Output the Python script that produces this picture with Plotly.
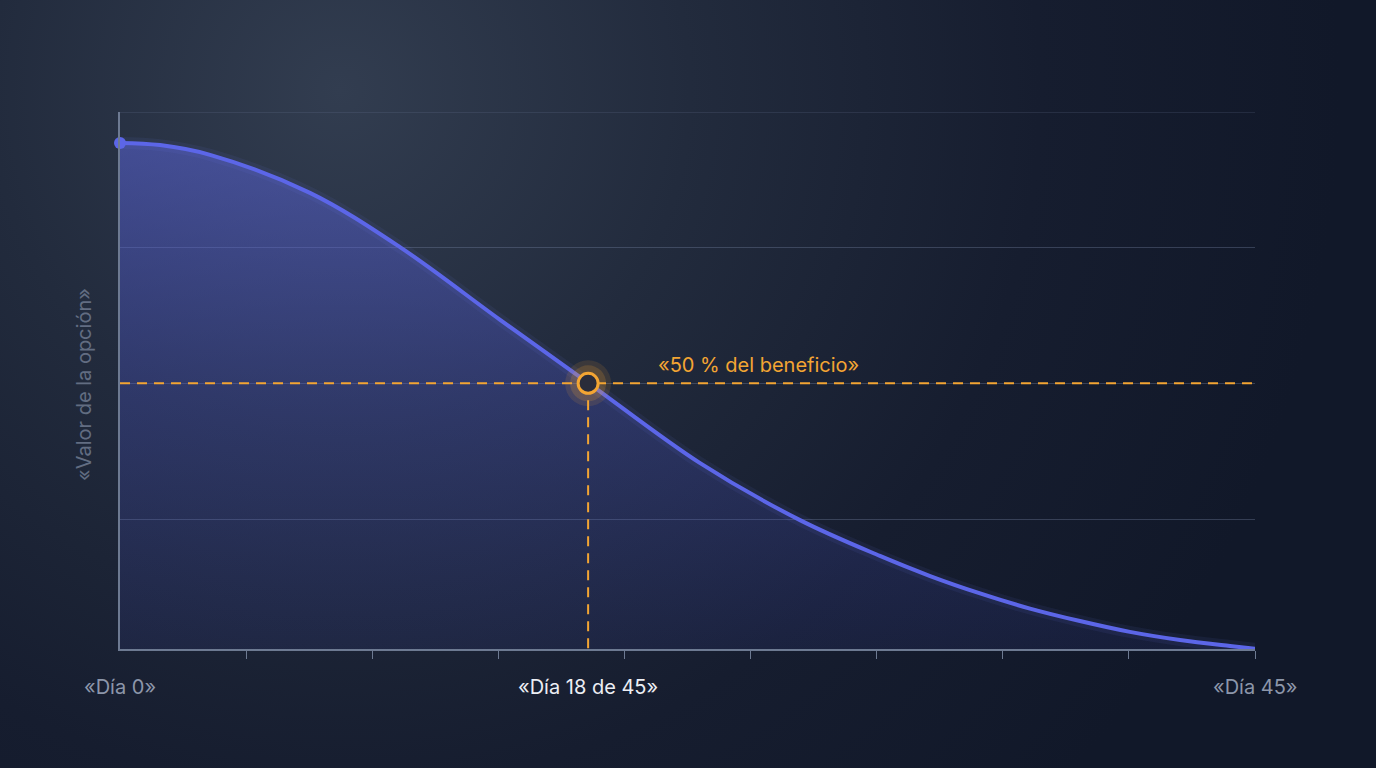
import base64
import plotly.graph_objects as go

# ---- data ----
days = [0, 1.59, 3.57, 7.53, 11.1, 15.07, 18.56, 23.0, 26.96, 30.13, 32.12, 34.10, 36.08, 38.06, 40.04, 42.03, 44.01, 45]
option_value = [0.943, 0.939, 0.921, 0.851, 0.751, 0.617, 0.501, 0.353, 0.248, 0.182, 0.145, 0.113, 0.085, 0.062, 0.042, 0.027, 0.016, 0.011]

marker_day = 18.56
marker_value = 0.5
marker_label = "«50 % del beneficio»"

x_label_days = [0, 18.56, 45]
x_label_texts = ["«Día 0»", "«Día 18 de 45»", "«Día 45»"]
x_label_colors = ["#8c96aa", "#eceef4", "#8c96aa"]

minor_tick_days = [5, 10, 15, 20, 25, 30, 35, 40, 45]
grid_values = [0.25, 0.5, 0.75, 1.0]
y_range = [0.0105, 1.0]
y_title = "«Valor de la opción»"

# ---- layout geometry ----
W, H = 1376, 768
ML, MR, MT, MB = 120, 121, 112, 119
PW, PH = W - ML - MR, H - MT - MB

FONT = "Inter, 'Noto Sans', sans-serif"
BLUE = "#5c66e8"
ORANGE = "#f3a533"
AXIS = "#6d7a92"
GRID = "rgba(120,135,165,0.35)"

# background radial gradient as svg
svg = f'''<svg xmlns="http://www.w3.org/2000/svg" width="{W}" height="{H}" viewBox="0 0 {W} {H}">
<defs><radialGradient id="g" gradientUnits="userSpaceOnUse" cx="340" cy="90" r="1000">
<stop offset="0" stop-color="#323d50"/>
<stop offset="0.35" stop-color="#222b3d"/>
<stop offset="0.7" stop-color="#161d2f"/>
<stop offset="1" stop-color="#111829"/>
</radialGradient></defs>
<rect width="{W}" height="{H}" fill="url(#g)"/></svg>'''
bg_src = "data:image/svg+xml;base64," + base64.b64encode(svg.encode()).decode()

fig = go.Figure()

# filled area under the curve
fig.add_trace(go.Scatter(
    x=days, y=option_value, mode="lines",
    line=dict(color="rgba(0,0,0,0)", width=0, shape="spline"),
    fill="tozeroy",
    fillgradient=dict(type="vertical", start=0, stop=0.95,
                      colorscale=[[0, "rgba(70,80,200,0.10)"], [0.5, "rgba(80,90,215,0.28)"], [1, "rgba(95,105,230,0.50)"]]),
    hoverinfo="skip", showlegend=False))

# soft glow along the line
fig.add_trace(go.Scatter(
    x=days, y=option_value, mode="lines",
    line=dict(color="rgba(120,130,240,0.08)", width=12, shape="spline"),
    hoverinfo="skip", showlegend=False))

# main curve
fig.add_trace(go.Scatter(
    x=days, y=option_value, mode="lines",
    line=dict(color=BLUE, width=4, shape="spline"),
    hoverinfo="skip", showlegend=False))

# start point
fig.add_trace(go.Scatter(
    x=days[:1], y=option_value[:1], mode="markers",
    marker=dict(size=12, color=BLUE), cliponaxis=False,
    hoverinfo="skip", showlegend=False))

# dashed guides
fig.add_trace(go.Scatter(
    x=[0, 45], y=[marker_value, marker_value], mode="lines",
    line=dict(color=ORANGE, width=2, dash="10px,7px"),
    hoverinfo="skip", showlegend=False))
fig.add_trace(go.Scatter(
    x=[marker_day, marker_day], y=[marker_value, y_range[0]], mode="lines",
    line=dict(color=ORANGE, width=2, dash="10px,7px"),
    hoverinfo="skip", showlegend=False))

# glowing ring marker
fig.add_trace(go.Scatter(
    x=[marker_day], y=[marker_value], mode="markers",
    marker=dict(size=46, color="rgba(243,165,51,0.12)", line=dict(width=0)),
    cliponaxis=False, hoverinfo="skip", showlegend=False))
fig.add_trace(go.Scatter(
    x=[marker_day], y=[marker_value], mode="markers",
    marker=dict(size=36, color="rgba(243,165,51,0.18)", line=dict(width=0)),
    cliponaxis=False, hoverinfo="skip", showlegend=False))
fig.add_trace(go.Scatter(
    x=[marker_day], y=[marker_value], mode="markers",
    marker=dict(size=20, color="#2a2c3a", line=dict(width=3, color=ORANGE)),
    cliponaxis=False, hoverinfo="skip", showlegend=False))

annotations = [
    dict(x=marker_day, y=marker_value, xref="x", yref="y", text=marker_label,
         showarrow=False, xanchor="left", yanchor="middle", xshift=68, yshift=18,
         font=dict(family=FONT, size=20, color=ORANGE)),
    dict(x=0, y=(PH - (385 - MT)) / PH,
         xref="paper", yref="paper", text=y_title, textangle=-90, showarrow=False,
         xanchor="center", yanchor="middle", xshift=-36,
         font=dict(family=FONT, size=20, color="#626d82")),
]
for d, t, c in zip(x_label_days, x_label_texts, x_label_colors):
    annotations.append(dict(x=d, y=0, xref="x", yref="paper", text=t, showarrow=False,
                            xanchor="center", yanchor="middle", yshift=-38,
                            font=dict(family=FONT, size=20, color=c)))

fig.update_layout(
    width=W, height=H, autosize=False,
    margin=dict(l=ML, r=MR, t=MT, b=MB, pad=0),
    paper_bgcolor="#141b2c", plot_bgcolor="rgba(0,0,0,0)",
    showlegend=False,
    images=[dict(source=bg_src, xref="paper", yref="paper",
                 x=-ML / PW, y=1 + MT / PH, sizex=W / PW, sizey=H / PH,
                 xanchor="left", yanchor="top", sizing="stretch", layer="below")],
    shapes=[dict(type="line", xref="paper", yref="y", x0=0, x1=1, y0=1.0, y1=1.0,
                 line=dict(color=GRID, width=1), layer="below")],
    xaxis=dict(range=[0, 45], showgrid=False, zeroline=False,
               showline=True, linecolor=AXIS, linewidth=2,
               tickmode="array", tickvals=minor_tick_days, ticks="outside",
               ticklen=8, tickwidth=1, tickcolor=AXIS, showticklabels=False),
    yaxis=dict(range=y_range, showgrid=True, gridcolor=GRID, gridwidth=1,
               zeroline=False, showline=True, linecolor=AXIS, linewidth=2,
               tickmode="array", tickvals=grid_values, ticks="", showticklabels=False),
    annotations=annotations,
)

fig.write_html("out.html", config={"displayModeBar": False},
               post_script="document.body.style.margin='0';document.body.style.overflow='hidden';")
